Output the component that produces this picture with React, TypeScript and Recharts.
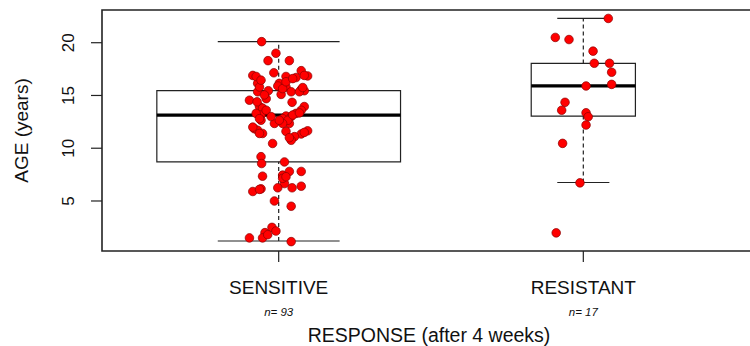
import {
  ComposedChart, Scatter, XAxis, YAxis, ReferenceArea, ReferenceLine,
} from 'recharts';

const groups = ['SENSITIVE', 'RESISTANT'];
const groupN = [93, 17];
const groupPos = [1, 2];

// box stats per group: lower whisker, Q1, median, Q3, upper whisker
const whiskerLow = [1.21, 6.75];
const q1 = [8.71, 13.05];
const median = [13.14, 15.9];
const q3 = [15.45, 18.04];
const whiskerHigh = [20.1, 22.3];

// jittered points (x = group position + jitter)
const sensitiveX = [
  0.944, 0.991, 0.965, 1.035, 0.984, 0.915, 1.074, 1.095, 1.024, 1.057,
  0.931, 1.002, 1.024, 1.074, 1.084, 0.931, 0.966, 1.008, 1.041, 0.959,
  0.904, 1.044, 0.937, 0.947, 1.084, 1.074, 1.057, 1.024, 1.013, 1.041,
  0.942, 0.942, 0.986, 1.035, 0.920, 0.931, 0.947, 1.024, 1.095, 1.074,
  1.052, 1.041, 0.980, 0.942, 0.944, 1.019, 0.947, 1.013, 1.035, 1.074,
  1.019, 0.997, 0.942, 0.915, 1.044, 1.074, 0.986, 1.041, 0.978, 0.991,
  0.955, 0.947, 0.904, 1.041, 0.926, 0.937, 0.997, 1.013, 1.068, 1.079,
  0.953, 0.929, 0.959, 0.926, 0.937, 1.030, 1.046, 1.068, 0.915, 0.937,
  1.035, 1.084, 1.013, 1.002, 0.975, 1.024, 1.046, 1.084, 0.942, 1.013,
  1.024, 0.937, 0.964,
];
const sensitiveAge = [
  20.1, 19.0, 18.3, 18.3, 17.15, 16.9, 17.35, 16.85, 16.8, 16.7,
  16.15, 16.15, 15.8, 15.55, 15.45, 15.35, 15.45, 15.1, 15.35, 14.7,
  14.55, 14.35, 13.95, 13.8, 13.95, 13.6, 13.3, 13.05, 12.8, 13.0,
  13.15, 12.65, 12.35, 12.35, 11.85, 11.7, 11.4, 11.6, 11.65, 11.35,
  11.1, 10.75, 10.45, 9.2, 8.55, 8.7, 7.35, 7.45, 7.8, 7.8,
  6.65, 6.25, 6.15, 5.9, 6.25, 6.4, 5.0, 4.5, 2.5, 2.15,
  2.0, 1.5, 1.5, 1.15, 16.8, 15.8, 15.9, 15.65, 15.35, 15.75,
  15.05, 14.4, 13.6, 13.3, 12.8, 12.65, 13.15, 13.35, 12.0, 11.4,
  11.0, 11.5, 12.35, 12.65, 13.0, 16.3, 16.6, 16.9, 16.45, 7.15,
  7.3, 6.1, 1.8,
];
const resistantX = [
  2.082, 1.908, 1.953, 2.032, 2.036, 2.086, 2.093, 2.009, 2.093, 1.940,
  1.929, 2.009, 2.016, 2.009, 1.932, 1.989, 1.911,
];
const resistantAge = [
  22.3, 20.5, 20.3, 19.2, 18.05, 18.05, 17.2, 15.9, 16.05, 14.35,
  13.6, 13.36, 12.98, 12.2, 10.46, 6.72, 1.98,
];

const yTicks = [5, 10, 15, 20];
const X_DOMAIN: [number, number] = [0.42, 2.58];
const Y_DOMAIN: [number, number] = [0.26, 23.1];

const INK = '#222';
const FONT = '"Liberation Sans", Arial, sans-serif';

const points = [
  ...sensitiveX.map((x, i) => ({ x, y: sensitiveAge[i] })),
  ...resistantX.map((x, i) => ({ x, y: resistantAge[i] })),
];

// varwidth boxes: widest box is 0.8, others scale with sqrt(n)
const maxN = Math.max(...groupN);
const halfWidth = groupN.map((n) => 0.4 * Math.sqrt(n / maxN));

function Dot(props: any) {
  const { cx, cy } = props;
  return <circle cx={cx} cy={cy} r={4.3} fill="#ff0000" stroke="#8a0000" strokeWidth={0.7} />;
}

function XTick(props: any) {
  const { x, y, payload } = props;
  const i = groupPos.indexOf(payload.value);
  if (i < 0) return null;
  return (
    <g>
      <text x={x} y={y + 30} textAnchor="middle" fontSize={19} fontFamily={FONT} fill="#111">
        {groups[i]}
      </text>
      <text x={x} y={y + 52} textAnchor="middle" fontSize={11.5} fontStyle="italic" fontFamily={FONT} fill="#111">
        n= {groupN[i]}
      </text>
    </g>
  );
}

function YTick(props: any) {
  const { y, payload } = props;
  const tx = 74;
  return (
    <text
      x={tx} y={y} textAnchor="middle" fontSize={17} fontFamily={FONT} fill="#111"
      transform={`rotate(-90, ${tx}, ${y})`}
    >
      {payload.value}
    </text>
  );
}

export default function App() {
  return (
    <div style={{ position: 'absolute', left: 0, top: 0, width: 750, height: 346, overflow: 'hidden', background: '#fff' }}>
      <ComposedChart width={760} height={346} margin={{ top: 10, right: 0, bottom: 0, left: 0 }}>
        <XAxis
          type="number" dataKey="x" domain={X_DOMAIN} ticks={groupPos}
          allowDataOverflow height={95} axisLine={false}
          tickSize={11} tickLine={{ stroke: INK, strokeWidth: 1.2 }}
          tick={<XTick />} interval={0}
          label={(p: any) => {
            const vb = p.viewBox;
            return (
              <text x={vb.x + vb.width / 2 - 2} y={342} textAnchor="middle" fontSize={19.5} fontFamily={FONT} fill="#111">
                RESPONSE (after 4 weeks)
              </text>
            );
          }}
        />
        <YAxis
          type="number" dataKey="y" domain={Y_DOMAIN} ticks={yTicks}
          allowDataOverflow width={102} axisLine={false}
          tickSize={11} tickLine={{ stroke: INK, strokeWidth: 1.2 }}
          tick={<YTick />} interval={0}
          label={(p: any) => {
            const vb = p.viewBox;
            const cy = vb.y + vb.height / 2;
            return (
              <text
                x={28} y={cy} textAnchor="middle" fontSize={19} fontFamily={FONT} fill="#111"
                transform={`rotate(-90, 28, ${cy})`}
              >
                AGE (years)
              </text>
            );
          }}
        />

        {groupPos.map((c, i) => (
          <ReferenceArea
            key={`box-${i}`}
            x1={c - halfWidth[i]} x2={c + halfWidth[i]} y1={q1[i]} y2={q3[i]}
            fill="none" fillOpacity={0} stroke={INK} strokeWidth={1.2} ifOverflow="visible"
          />
        ))}
        {groupPos.map((c, i) => (
          <ReferenceLine
            key={`wl-${i}`}
            segment={[{ x: c, y: whiskerLow[i] }, { x: c, y: q1[i] }]}
            stroke={INK} strokeWidth={1.2} strokeDasharray="4 3" ifOverflow="visible"
          />
        ))}
        {groupPos.map((c, i) => (
          <ReferenceLine
            key={`wh-${i}`}
            segment={[{ x: c, y: q3[i] }, { x: c, y: whiskerHigh[i] }]}
            stroke={INK} strokeWidth={1.2} strokeDasharray="4 3" ifOverflow="visible"
          />
        ))}
        {groupPos.map((c, i) => (
          <ReferenceLine
            key={`cl-${i}`}
            segment={[{ x: c - halfWidth[i] / 2, y: whiskerLow[i] }, { x: c + halfWidth[i] / 2, y: whiskerLow[i] }]}
            stroke={INK} strokeWidth={1.2} ifOverflow="visible"
          />
        ))}
        {groupPos.map((c, i) => (
          <ReferenceLine
            key={`ch-${i}`}
            segment={[{ x: c - halfWidth[i] / 2, y: whiskerHigh[i] }, { x: c + halfWidth[i] / 2, y: whiskerHigh[i] }]}
            stroke={INK} strokeWidth={1.2} ifOverflow="visible"
          />
        ))}
        {groupPos.map((c, i) => (
          <ReferenceLine
            key={`md-${i}`}
            segment={[{ x: c - halfWidth[i], y: median[i] }, { x: c + halfWidth[i], y: median[i] }]}
            stroke="#000" strokeWidth={3.2} ifOverflow="visible"
          />
        ))}
        <ReferenceArea
          x1={X_DOMAIN[0]} x2={X_DOMAIN[1]} y1={Y_DOMAIN[0]} y2={Y_DOMAIN[1]}
          fill="none" fillOpacity={0} stroke={INK} strokeWidth={1.6} ifOverflow="visible"
        />

        <Scatter data={points} dataKey="y" shape={<Dot />} isAnimationActive={false} />
      </ComposedChart>
    </div>
  );
}
